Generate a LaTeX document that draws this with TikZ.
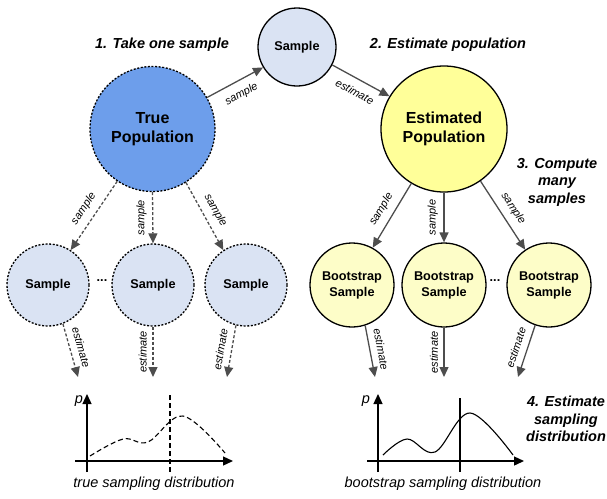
\documentclass[tikz,border=0pt]{standalone}
\usepackage{fontspec}
\setmainfont{Liberation Sans}
\usetikzlibrary{arrows.meta}
\definecolor{tpblue}{HTML}{6D9EEB}
\definecolor{smpblue}{HTML}{DAE3F3}
\definecolor{estyel}{HTML}{FFFF99}
\definecolor{bsyel}{HTML}{FDFDC8}
\definecolor{arrgray}{HTML}{4D4D4D}
\begin{document}
\begin{tikzpicture}[x=1pt,y=-1pt,
  circ/.style={circle, draw=black, line width=1.3pt, inner sep=0pt, align=center,
    font=\bfseries\fontsize{12.7}{16}\selectfont},
  dotcirc/.style={circ, dash pattern=on 2pt off 1.6pt},
  bigfont/.style={font=\bfseries\fontsize{16}{19}\selectfont},
  arr/.style={draw=arrgray, line width=1.3pt, -{Triangle[length=10pt,width=9pt]}},
  darr/.style={arr, dash pattern=on 3pt off 2pt},
  labbase/.style={font=\itshape\fontsize{11}{13}\selectfont, midway, inner sep=2pt},
  lab/.style={labbase, sloped},
  vlab/.style={labbase, rotate=90},
  head/.style={font=\bfseries\itshape\fontsize{14.5}{17.5}\selectfont, align=center},
  captext/.style={font=\itshape\fontsize{14.5}{17}\selectfont},
  axisline/.style={line width=1.3pt, -{Triangle[length=10pt,width=9pt]}},
  dotstext/.style={font=\bfseries\fontsize{12.7}{15}\selectfont}
]
\useasboundingbox (0,0) rectangle (607,498);

% headers
\node[head] (h1) at (162,45) {1. Take one sample};
\node[head] (h2) at (448,45) {2. Estimate population};
\node[head] (h3) at (557,182) {3. Compute\\many\\samples};
\node[head] (h4) at (566,419) {4. Estimate\\sampling\\distribution};

% main nodes
\node[circ, fill=smpblue, minimum size=78pt] (s) at (297,47) {Sample};
\node[dotcirc, bigfont, fill=tpblue, minimum size=125pt] (tp) at (152.5,129) {True\\Population};
\node[circ, bigfont, fill=estyel, minimum size=126pt] (ep) at (444,129) {Estimated\\Population};

% left samples
\node[dotcirc, fill=smpblue, minimum size=82pt] (s1) at (48,285) {Sample};
\node[dotcirc, fill=smpblue, minimum size=82pt] (s2) at (153,285) {Sample};
\node[dotcirc, fill=smpblue, minimum size=82pt] (s3) at (246,285) {Sample};
\node[dotstext] (d1) at (102,281) {...};

% bootstrap samples
\node[circ, fill=bsyel, minimum size=84pt] (b1) at (352,285) {Bootstrap\\Sample};
\node[circ, fill=bsyel, minimum size=84pt] (b2) at (444,285) {Bootstrap\\Sample};
\node[circ, fill=bsyel, minimum size=84pt] (b3) at (549,285) {Bootstrap\\Sample};
\node[dotstext] (d2) at (495,281) {...};

% top arrows
\draw[arr] (tp.30) -- node[lab, below=6pt] {sample} (s.211);
\draw[arr] (s.-27) -- node[lab, below=6pt] {estimate} (ep.149);

% true population to samples
\draw[darr] (tp.-124) -- node[lab, above=4.5pt] {sample} (s1.57);
\draw[darr] (tp.-90) -- node[vlab, above=3.5pt] {sample} (s2.90);
\draw[darr] (tp.-58) -- node[lab, above=4.5pt] {sample} (s3.123);

% estimated population to bootstrap samples
\draw[arr] (ep.-121) -- node[lab, above=4.5pt] {sample} (b1.61);
\draw[arr] (ep.-90) -- node[vlab, above=3.5pt] {sample} (b2.90);
\draw[arr] (ep.-55) -- node[lab, above=4.5pt] {sample} (b3.124);

% estimate arrows
\coordinate (e1) at (78,377);
\coordinate (e2) at (153,377);
\coordinate (e3) at (227,377);
\coordinate (f1) at (375,377);
\coordinate (f2) at (444,377);
\coordinate (f3) at (518,377);
\draw[darr] (s1.-69) -- node[lab, above=4.5pt] {estimate} (e1);
\draw[darr] (s2.-90) -- node[vlab, above=3.5pt] {estimate} (e2);
\draw[darr] (s3.-104) -- node[lab, above=4.5pt] {estimate} (e3);
\draw[arr] (b1.-72) -- node[lab, above=4.5pt] {estimate} (f1);
\draw[arr] (b2.-90) -- node[vlab, above=3.5pt] {estimate} (f2);
\draw[arr] (b3.-109) -- node[lab, above=4.5pt] {estimate} (f3);

% left plot
\draw[axisline] (87,472) -- (87,394);
\draw[axisline] (75,461) -- (233,461);
\draw[line width=1.1pt, dash pattern=on 5pt off 3pt] (170,395) -- (170,472);
\draw[line width=1.1pt, dash pattern=on 5pt off 3pt] plot[smooth, tension=0.6] coordinates {(90,456) (123,439) (148,442) (183,416) (225,453)};
\node[captext] (p1) at (79,401) {p};
\node[captext] (c1) at (154,484) {true sampling distribution};

% right plot
\draw[axisline] (378,472) -- (378,394);
\draw[axisline] (367,461) -- (524,461);
\draw[line width=1.1pt] (460,398) -- (460,472);
\draw[line width=1.1pt] plot[smooth, tension=0.6] coordinates {(383,455) (407,439) (435,452) (470,413) (513,455)};
\node[captext] (p2) at (366,401) {p};
\node[captext] (c2) at (443,484) {bootstrap sampling distribution};
\end{tikzpicture}
\end{document}
